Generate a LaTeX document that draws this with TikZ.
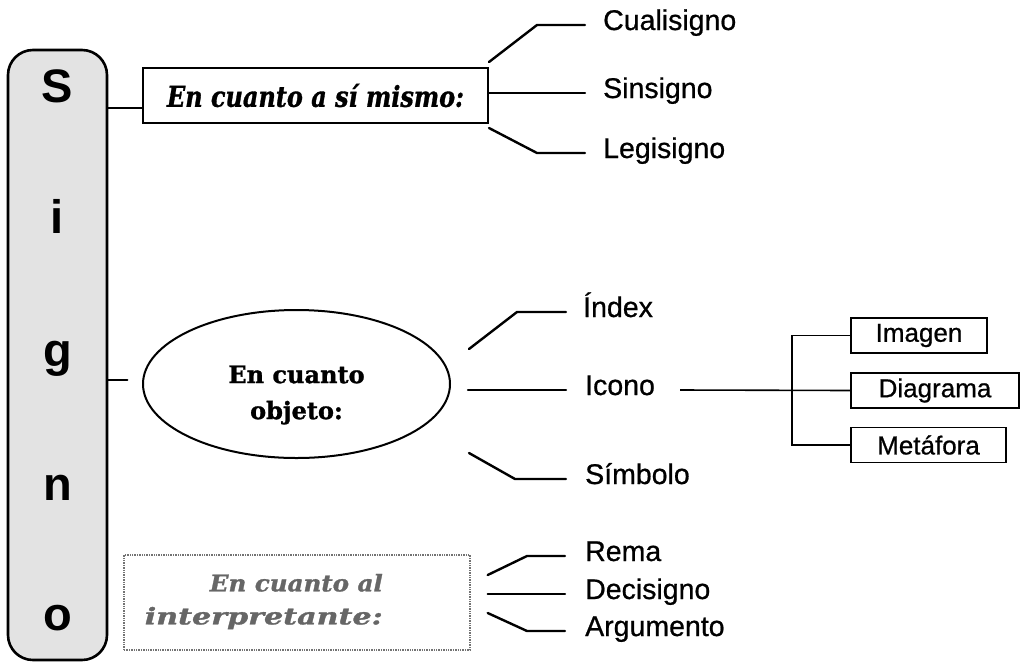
\documentclass[tikz,border=0pt]{standalone}
\usepackage{graphicx}
\usepackage{fontspec}
\setmainfont{Liberation Sans}
\newfontfamily\lblfont[FakeBold=0.7]{Liberation Sans}
\newfontfamily\headfont[FakeBold=1.2]{DejaVu Serif}
\usetikzlibrary{calc,shapes.geometric}
\begin{document}
\begin{tikzpicture}[x=1pt,y=-1pt,
  lbl/.style={anchor=west,inner xsep=0pt,inner ysep=0pt,text height=20pt,text depth=10pt,font=\lblfont\fontsize{28.5}{30}\selectfont},
  conn/.style={line width=2.4pt,line cap=round,line join=round},
  brk/.style={line width=1.6pt},
  subbox/.style={draw,line width=1.8pt,minimum height=35pt,inner sep=0pt,font=\lblfont\fontsize{26}{28}\selectfont},
  bigletter/.style={anchor=base,inner sep=0pt,font=\fontsize{47}{50}\selectfont\bfseries},
]
\useasboundingbox (0,0) rectangle (1022,662);

% Signo column
\node[draw,line width=2.6pt,rounded corners=25pt,fill=gray!22,minimum width=99pt,minimum height=610pt,inner sep=0pt] (signo) at (57.5,355) {};
\node[bigletter] (lS) at (57.5,102) {S};
\node[bigletter] (lI) at (57.5,233) {i};
\node[bigletter] (lG) at (57.5,366) {g};
\node[bigletter] (lN) at (57.5,500) {n};
\node[bigletter] (lO) at (57.5,630) {o};

% main categories
\node[draw,line width=2pt,minimum width=345pt,minimum height=55pt,inner sep=0pt] (b1) at (315.5,95.5)
  {\resizebox{297pt}{1.15\height}{\headfont\bfseries\itshape\fontsize{25}{28}\selectfont En cuanto a sí mismo:}};
\node[draw,ellipse,line width=2pt,minimum width=307pt,minimum height=148pt,inner sep=0pt] (ell) at (296.5,384) {};
\node[align=center,inner sep=0pt,font=\headfont\bfseries\fontsize{24}{36}\selectfont] (ellt) at (296.5,395) {En cuanto\\objeto:};
\node[draw=black!55,densely dotted,line width=1.4pt,minimum width=346pt,minimum height=95pt,inner sep=0pt] (b3) at (297,602.5) {};
\node[anchor=east,align=right,inner sep=0pt,text=black!60,font=\headfont\bfseries\itshape\fontsize{23}{33}\selectfont] (b3t) at (383,601.5)
  {\resizebox{173pt}{\height}{En cuanto al}\\\resizebox{238pt}{\height}{interpretante:}};

% connectors from Signo
\draw[conn] ($(signo.east |- b1.west)+(0,12.5)$) -- ($(b1.west)+(0,12.5)$);
\draw[conn] ($(signo.east |- ell.west)+(0,-4)$) -- ++(19,0);

% labels
\node[lbl] (cuali) at (603,25) {Cualisigno};
\node[lbl] (sinsi) at (603,93) {Sinsigno};
\node[lbl] (legi) at (603,153) {Legisigno};
\node[lbl] (index) at (583,312) {Índex};
\node[lbl] (icono) at (585,390) {Icono};
\node[lbl] (simb) at (585,479) {Símbolo};
\node[lbl] (rema) at (585,556) {Rema};
\node[lbl] (deci) at (585,594) {Decisigno};
\node[lbl] (argu) at (585,631) {Argumento};

% top branch
\draw[conn] ($(b1.north east)+(0,-5)$) -- ($(cuali.west)+(-66,0)$) -- ($(cuali.west)+(-18,0)$);
\draw[conn] (b1.east |- sinsi.west) -- ($(sinsi.west)+(-18,0)$);
\draw[conn] ($(b1.south east)+(0,4)$) -- ($(legi.west)+(-66,0)$) -- ($(legi.west)+(-18,0)$);

% middle branch
\draw[conn] ($(ell.east)+(18,-35)$) -- ($(index.west)+(-66,0)$) -- ($(index.west)+(-17,0)$);
\draw[conn] ($(ell.east)+(17,6)$) -- ($(icono.west)+(-19,0)$);
\draw[conn] ($(ell.east)+(18,69)$) -- ($(simb.west)+(-70,0)$) -- ($(simb.west)+(-19,0)$);

% bottom branch
\draw[conn] ($(b3.east)+(17,-27.5)$) -- ($(rema.west)+(-58,0)$) -- ($(rema.west)+(-20,0)$);
\draw[conn] ($(b3.east)+(17,-8.5)$) -- ($(deci.west)+(-20,0)$);
\draw[conn] ($(b3.east)+(17,10.5)$) -- ($(argu.west)+(-58,0)$) -- ($(argu.west)+(-20,0)$);

% Icono subtypes
\node[subbox,minimum width=136pt] (img) at (919,335.5) {Imagen};
\node[subbox,minimum width=168pt] (diag) at (935,390.5) {Diagrama};
\node[subbox,minimum width=155pt] (met) at (928.5,445) {Metáfora};
\draw[brk] ($(icono.east)+(25,0)$) -- (diag.west);
\draw[brk] (img.west) -- ++(-58,0) |- (met.west);
\end{tikzpicture}
\end{document}
